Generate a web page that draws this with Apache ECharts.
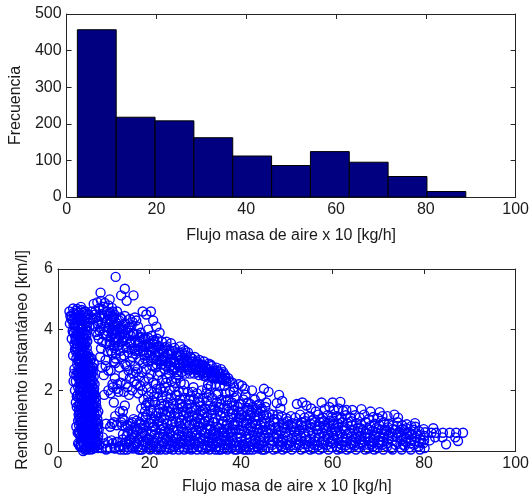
<!DOCTYPE html>
<html>
<head>
<meta charset="utf-8">
<script src="https://cdn.jsdelivr.net/npm/echarts@6/dist/echarts.min.js"></script>
<style>
  html, body { margin: 0; padding: 0; background: #fff; }
  #chart { width: 532px; height: 500px; }
</style>
</head>
<body>
<div id="chart"></div>
<script>
// Histograma: bordes de las clases y frecuencias
const bordesClases = [2.4, 11.05, 19.7, 28.35, 37.0, 45.65, 54.3, 62.95, 71.6, 80.25, 88.9];
const frecuencias = [457, 218, 208, 162, 112, 86, 124, 95, 56, 15];

// Ticks de los ejes
const ticksFlujo = [0, 20, 40, 60, 80, 100];
const ticksFrecuencia = [0, 100, 200, 300, 400, 500];
const ticksRendimiento = [0, 2, 4, 6];

// Dispersión: [flujo masa de aire x 10, rendimiento instantáneo]
const bandaVertical = [
  [5.2,0.12],[6.1,0.08],[6.8,0.15],[7.5,0.06],[8.1,0.14],[8.7,0.1],[4.6,0.22],[7.2,0.25],[6.4,0.3],
  [5.5,0.42],[6.2,0.38],[6.9,0.45],[7.6,0.4],[8.3,0.36],[8.8,0.5],[5.9,0.55],[7.3,0.6],
  [5.0,0.75],[5.8,0.7],[6.5,0.78],[7.1,0.68],[7.8,0.74],[8.4,0.82],[6.2,0.9],[7.5,0.95],
  [4.4,1.0],[5.6,1.05],[6.3,1.1],[6.9,1.02],[7.6,1.12],[8.2,1.0],[5.9,1.25],[7.2,1.3],[8.5,1.22],
  [4.1,1.45],[5.4,1.4],[6.1,1.5],[6.7,1.38],[7.4,1.48],[8.0,1.42],[5.8,1.62],[7.0,1.66],[7.9,1.7],
  [4.3,1.85],[5.2,1.82],[5.9,1.9],[6.5,1.78],[7.2,1.88],[7.8,1.95],[5.6,2.05],[6.8,2.1],[7.5,2.15],
  [3.9,2.3],[5.0,2.25],[5.7,2.32],[6.3,2.2],[6.9,2.35],[7.6,2.28],[5.4,2.48],[6.6,2.55],[7.3,2.5],
  [3.6,2.7],[4.6,2.72],[5.4,2.7],[6.0,2.8],[6.7,2.68],[7.4,2.78],[5.1,2.95],[6.3,3.0],[7.0,2.98],[7.8,2.9],
  [3.3,3.15],[4.4,3.2],[5.2,3.18],[5.8,3.3],[6.5,3.22],[4.8,3.45],[6.0,3.5],[3.9,3.4],
  [3.0,3.7],[3.9,3.65],[4.7,3.72],[5.5,3.68],[6.2,3.8],[4.3,3.95],[5.2,3.92],[6.0,4.0],[3.4,3.9],
  [2.6,4.2],[3.4,4.15],[4.1,4.25],[4.9,4.18],[5.7,4.3],[6.5,4.22],[3.0,4.45],[3.8,4.5],[4.6,4.42],[5.4,4.55],[6.2,4.48],
  [2.5,4.6],[3.3,4.7],[4.2,4.68],[5.0,4.75],
  [5.6,0.2],[6.4,0.12],[7.0,0.05],[7.8,0.22],[8.4,0.28],[5.0,0.35],[6.6,0.55],[8.0,0.58],[5.3,0.62],[6.0,0.85],
  [6.8,0.85],[7.9,0.9],[8.6,0.7],[5.4,0.88],[6.6,1.18],[7.9,1.28],[5.1,1.2],[4.8,1.55],[6.4,1.6],[7.6,1.58],
  [8.3,1.6],[6.2,1.75],[7.5,1.8],[4.7,2.0],[6.1,2.05],[7.1,2.05],[8.0,2.2],[4.5,2.4],[6.0,2.4],[7.0,2.45],
  [5.8,2.6],[7.6,2.62],[4.2,2.85],[5.7,2.9],[6.6,2.88],[4.0,3.05],[5.5,3.05],[6.9,3.1],[3.7,3.35],[5.3,3.35],
  [6.3,3.4],[4.1,3.55],[5.6,3.55],[6.4,3.62],[3.5,3.88],[4.9,3.88],[6.4,3.98],[3.7,4.05],[5.3,4.08],[6.9,4.1],
  [2.9,4.35],[4.3,4.35],[5.9,4.4],[7.0,4.35],
  [3.4,2.3],[3.9,1.6],[4.1,1.8],[4.0,0.8],[4.3,0.6],[4.4,0.25],[3.7,2.0],[3.5,2.55],
  [5.8,0.05],[6.6,0.22],[7.4,0.18],[8.2,0.45],[5.4,0.3],[6.0,0.48],[7.0,0.32],[7.8,0.52],[8.6,0.3],[5.6,0.8],
  [6.4,0.65],[7.2,0.82],[8.0,0.66],[8.8,0.9],[4.8,0.55],[9.0,0.2],
  [5.2,1.0],[6.0,1.15],[6.8,1.25],[7.6,1.35],[8.4,1.45],[5.0,1.35],[5.8,1.45],[6.6,1.55],[7.3,1.7],[8.1,1.85],
  [4.6,1.75],[5.5,1.7],[6.3,1.9],[7.0,1.95],[7.8,1.55],[8.6,1.05],
  [5.3,2.1],[6.2,2.3],[7.0,2.2],[7.8,2.45],[4.9,2.55],[5.6,2.4],[6.4,2.65],[7.2,2.65],[4.4,2.6],[5.2,2.8],
  [6.1,2.95],[6.9,2.8],[4.0,2.5],[7.9,2.05],
  [4.6,3.05],[5.4,3.25],[6.2,3.15],[4.0,3.25],[4.6,3.6],[5.0,3.55],[5.9,3.7],[3.6,3.55],[3.2,3.95],[4.0,3.85],
  [4.8,4.0],[5.6,3.95],[6.3,4.12],[3.2,4.3],[4.5,4.55],[5.3,4.35],[6.0,4.25],[2.7,4.45],[3.6,4.35],[4.0,4.62],
  [5.8,4.6],[6.7,4.5]
];

const rellenoBanda = [
  [5.5,0.0],[6.3,0.05],[7.1,0.12],[7.9,0.1],[8.5,0.18],[5.1,0.5],[5.7,0.4],[6.3,0.52],[6.9,0.6],[7.5,0.5],[8.1,0.3],[8.7,0.4],
  [5.3,0.78],[5.9,0.95],[6.5,0.98],[7.0,0.92],[7.7,0.82],[8.3,0.95],[4.9,1.1],[5.5,1.22],[6.2,1.3],[6.9,1.45],[7.4,1.2],[8.1,1.15],[8.8,1.3],
  [5.2,1.55],[5.7,1.35],[6.4,1.42],[7.1,1.55],[7.7,1.45],[8.3,1.75],[4.9,1.95],[5.4,2.0],[6.0,1.65],[6.6,1.95],[7.3,2.0],[7.9,1.85],
  [5.1,2.4],[5.6,2.2],[6.2,2.5],[6.8,2.25],[7.4,2.35],[4.7,2.2],[5.3,2.6],[5.9,2.75],[6.5,2.42],[7.1,2.75],[7.7,2.75],
  [4.5,2.95],[4.9,3.15],[5.5,2.85],[6.1,3.1],[6.7,3.05],[7.3,3.05],[4.2,3.4],[4.7,3.3],[5.1,3.65],[5.7,3.45],[6.3,3.6],[3.8,3.75],
  [4.4,3.8],[5.0,4.05],[5.5,3.8],[6.1,3.85],[3.6,4.2],[4.3,4.1],[4.8,4.3],[5.6,4.15],[6.5,4.38],[3.4,4.55],[4.0,4.4],[5.2,4.65],[6.0,4.6],
  [4.7,1.25],[4.5,1.5],[4.4,2.1],[4.2,2.6],[4.8,2.85],[4.6,0.85],[5.0,0.2],[4.9,0.95],
  [6.7,0.28],[7.6,0.28],[8.9,0.7],[8.2,0.62],[7.4,0.72],[6.7,0.72],[6.0,0.68],[5.6,0.58],
  [6.0,1.3],[6.9,1.2],[7.8,1.05],[5.3,1.65],[6.8,1.75],[7.6,1.9],[5.8,2.15],[6.5,2.12],[7.2,2.2],[6.9,2.6],[6.1,2.6],[5.6,3.15],
  [4.9,0.45],[5.2,0.9],[4.7,1.05],[5.0,1.45],[4.8,1.85],[5.1,2.15],[4.8,2.35],[5.0,2.7],[4.7,3.2],[5.3,3.45],
  [4.6,3.9],[5.0,1.75],[5.3,1.25],[4.6,1.35],[4.9,2.05],[5.2,2.5],[4.6,2.55],[5.0,3.0],[5.3,0.7],[4.8,0.15],
  [5.5,0.55],[5.6,1.55],[5.4,1.95],[5.6,2.7],[5.4,3.6],[5.1,4.2],[4.4,3.0],[4.5,1.2],[4.6,0.6],[5.3,0.45]
];

const nucleoSuperior = [
  [7.8,4.85],[8.6,4.9],[9.4,4.95],[10.2,4.88],[11.0,4.8],[11.8,4.72],[7.4,4.6],[8.2,4.62],[9.0,4.7],[9.8,4.66],
  [10.6,4.6],[11.4,4.55],[12.3,4.5],[7.6,4.35],[8.4,4.4],[9.2,4.45],[10.0,4.38],[10.8,4.32],[11.6,4.3],[12.6,4.25],
  [7.9,4.12],[8.7,4.18],[9.5,4.2],[10.3,4.1],[11.1,4.05],[11.9,4.0],[12.8,3.98],[8.3,3.92],[9.1,3.95],[9.9,3.85],
  [10.7,3.8],[11.5,3.75],[12.4,3.72],[13.2,3.7],[8.9,3.7],[9.7,3.6],[10.5,3.55],[11.3,3.5],[12.1,3.48],[13.0,3.45],
  [9.4,3.38],[10.9,3.28],[11.8,3.22],[12.7,3.2],[13.6,3.3],
  [9.2,3.1],[10.4,3.0],[12.2,2.95],[9.6,2.75],[11.0,2.65],
  [8.1,4.5],[9.6,4.52],[10.9,4.48],[8.8,4.28],[10.4,4.25],[9.3,4.05],[10.8,3.95],[8.6,3.82],[12.0,3.88],[9.9,4.75],[11.2,4.18],
  [9.5,0.1],[10.2,0.25],[10.8,0.08],[9.8,0.45],[10.5,0.9],[10.0,2.5],[10.1,1.85],[11.0,2.0],[12.0,2.1],[13.0,2.2],
  [10.4,2.8],[11.5,2.65],[12.5,2.9]
];

const puntosAltos = [
  [9.3,5.22],[12.6,5.74],[14.6,5.35],[13.8,5.13],[16.5,5.13],[11.3,5.0],[15.0,4.95]
];

const nube12a20 = [
  [11.4,0.1],[11.7,0.35],[11.8,0.9],[11.5,1.9],[11.9,2.2],[11.3,3.6],[11.7,3.95],[11.4,4.35],[11.9,4.6],[11.6,3.3],
  [12.4,0.08],[12.7,0.3],[12.8,0.85],[12.5,1.15],[12.2,1.6],[12.9,2.05],[12.4,2.4],[12.6,3.05],[12.3,3.4],[12.8,3.75],[12.5,4.1],[12.2,4.4],[12.9,4.6],
  [13.4,0.15],[13.8,0.95],[13.5,1.3],[13.2,1.95],[13.7,2.25],[13.4,2.75],[13.8,3.1],[13.3,3.5],[13.6,3.8],[13.9,4.05],[13.4,4.3],
  [14.4,0.05],[14.7,0.28],[14.8,0.78],[14.5,1.0],[14.2,1.32],[14.6,1.5],[14.4,1.95],[14.8,2.2],[14.3,2.5],[14.7,2.85],[14.4,3.15],[14.8,3.45],[14.5,3.75],[14.2,4.0],[14.7,4.2],
  [15.4,0.12],[15.7,0.38],[15.3,0.62],[15.8,0.9],[15.5,1.85],[15.2,2.1],[15.7,2.4],[15.4,2.65],[15.8,2.95],[15.3,3.25],[15.6,3.55],[15.9,3.8],[15.4,4.05],[15.7,4.35],
  [16.4,0.08],[16.7,0.3],[16.3,0.55],[16.8,0.8],[16.5,1.05],[16.2,2.0],[16.7,2.3],[16.4,2.55],[16.8,2.8],[16.3,3.1],[16.6,3.4],[16.9,3.65],[16.4,3.9],[16.8,4.4],
  [17.4,0.15],[17.7,0.4],[17.3,0.68],[17.8,0.95],[17.5,1.9],[17.2,2.2],[17.7,2.45],[17.4,2.7],[17.8,3.0],[17.3,3.3],[17.6,3.55],[17.9,3.75],[17.5,4.1],
  [18.4,0.05],[18.7,0.32],[18.3,0.58],[18.8,0.85],[18.5,1.12],[18.2,1.4],[18.7,1.7],[18.4,2.0],[18.8,2.3],[18.3,2.6],[18.6,2.9],[18.9,3.15],[18.4,3.45],[18.7,3.7],[18.5,4.6],
  [19.4,0.12],[19.7,0.4],[19.3,0.65],[19.8,0.92],[19.5,1.2],[19.2,1.5],[19.7,1.8],[19.4,2.1],[19.8,2.4],[19.3,2.7],[19.6,2.95],[19.9,3.25],[19.4,3.5],[19.7,4.0],[19.3,4.5],
  [12.0,3.85],[13.0,4.2],[14.0,3.6],[15.0,3.4],[16.0,3.6],[17.0,3.2],[18.0,3.4],[19.0,3.05],[12.0,0.25],[14.0,0.85],
  [15.0,0.22],[16.0,0.7],[17.0,0.28],[18.0,0.75],[19.0,0.5],[17.0,2.6],[18.0,2.15],[15.0,2.8],[16.1,4.15],[19.1,3.7]
];

const nube20a29 = [
  [20.4,0.08],[20.7,0.3],[20.3,0.55],[20.8,0.8],[20.5,1.05],[20.2,1.35],[20.7,1.65],[20.4,1.95],[20.8,2.25],[20.3,2.55],[20.6,2.8],[20.9,3.05],[20.4,3.3],[20.7,3.55],[20.5,3.8],[20.3,4.6],[20.8,4.3],
  [21.4,0.15],[21.7,0.42],[21.3,0.7],[21.8,0.95],[21.5,1.25],[21.2,1.6],[21.7,1.9],[21.4,2.2],[21.8,2.5],[21.3,2.75],[21.6,3.0],[21.9,3.25],[21.4,3.5],[21.7,3.7],[21.5,4.1],
  [22.4,0.05],[22.7,0.3],[22.3,0.58],[22.8,0.85],[22.5,1.1],[22.2,1.4],[22.7,1.75],[22.4,2.05],[22.8,2.35],[22.3,2.6],[22.6,2.85],[22.9,3.1],[22.4,3.35],[22.7,3.6],[22.2,3.9],
  [23.4,0.12],[23.7,0.4],[23.3,0.65],[23.8,0.9],[23.5,1.18],[23.2,1.5],[23.7,1.8],[23.4,2.1],[23.8,2.4],[23.3,2.7],[23.6,2.95],[23.9,3.2],[23.4,3.42],[23.7,3.6],
  [24.4,0.08],[24.7,0.35],[24.3,0.6],[24.8,0.88],[24.5,1.15],[24.2,1.45],[24.7,1.75],[24.4,2.0],[24.8,2.3],[24.3,2.55],[24.6,2.8],[24.9,3.05],[24.4,3.3],[24.7,3.55],
  [25.4,0.15],[25.7,0.4],[25.3,0.68],[25.8,0.95],[25.5,1.25],[25.2,1.55],[25.7,1.85],[25.4,2.1],[25.8,2.4],[25.3,2.65],[25.6,2.9],[25.9,3.15],[25.4,3.4],
  [26.4,0.05],[26.7,0.3],[26.3,0.55],[26.8,0.82],[26.5,1.1],[26.2,1.4],[26.7,1.7],[26.4,1.95],[26.8,2.25],[26.3,2.5],[26.6,2.75],[26.9,3.0],[26.4,3.25],[26.7,3.45],
  [27.4,0.12],[27.7,0.38],[27.3,0.62],[27.8,0.9],[27.5,1.18],[27.2,1.45],[27.7,1.75],[27.4,1.98],[27.8,2.55],[27.3,2.75],[27.6,2.95],[27.9,3.15],[27.4,3.35],
  [28.4,0.08],[28.7,0.32],[28.3,0.58],[28.8,0.85],[28.5,1.12],[28.2,1.4],[28.7,1.7],[28.4,1.95],[28.8,2.55],[28.3,2.7],[28.6,2.9],[28.9,3.1],[28.4,3.25],
  [20.0,3.45],[21.0,3.35],[22.0,3.2],[23.0,3.0],[24.0,2.9],[25.0,2.7],[26.0,2.6],[27.0,2.6],[28.0,2.75],
  [20.1,0.2],[21.1,0.55],[22.1,0.25],[23.1,0.75],[24.1,0.22],[25.1,0.5],[26.1,0.2],[27.1,0.5],[28.1,0.22],
  [21.0,1.05],[23.0,1.3],[25.0,0.95],[27.0,1.0]
];

const nube29a37 = [
  [29.4,0.1],[29.7,0.35],[29.3,0.6],[29.8,0.88],[29.5,1.15],[29.2,1.42],[29.7,1.7],[29.4,1.95],[29.8,2.55],[29.3,2.75],[29.6,2.95],[29.9,3.1],
  [30.4,0.05],[30.7,0.3],[30.3,0.55],[30.8,0.82],[30.5,1.1],[30.2,1.35],[30.7,1.62],[30.4,1.9],[30.8,2.5],[30.3,2.68],[30.6,2.88],[30.9,3.0],
  [31.4,0.12],[31.7,0.4],[31.3,0.65],[31.8,0.92],[31.5,1.2],[31.2,1.48],[31.7,1.75],[31.4,2.0],[31.8,2.48],[31.3,2.62],[31.6,2.82],[31.9,2.95],
  [32.4,0.08],[32.7,0.32],[32.3,0.58],[32.8,0.85],[32.5,1.12],[32.2,1.4],[32.7,1.65],[32.4,1.9],[32.8,2.2],[32.3,2.45],[32.6,2.68],[32.9,2.88],
  [33.4,0.15],[33.7,0.42],[33.3,0.7],[33.8,0.95],[33.5,1.22],[33.2,1.5],[33.7,1.75],[33.4,2.15],[33.8,2.4],[33.3,2.6],[33.6,2.8],
  [34.4,0.05],[34.7,0.3],[34.3,0.55],[34.8,0.8],[34.5,1.08],[34.2,1.35],[34.7,1.6],[34.4,2.2],[34.8,2.4],[34.3,2.58],[34.6,2.75],
  [35.4,0.12],[35.7,0.38],[35.3,0.62],[35.8,0.9],[35.5,1.18],[35.2,1.45],[35.7,1.7],[35.4,2.15],[35.8,2.35],[35.3,2.55],[35.6,2.7],
  [36.4,0.08],[36.7,0.35],[36.3,0.6],[36.8,0.85],[36.5,1.12],[36.2,1.4],[36.7,1.65],[36.4,2.15],[36.8,2.3],[36.5,2.5],
  [37.1,0.2],[37.2,0.55],[37.0,0.9],[37.3,1.3],[37.1,1.7],[37.2,2.4],
  [29.0,0.22],[30.0,0.5],[31.0,0.25],[32.0,0.6],[33.0,0.3],[34.0,0.65],[35.0,0.28],[36.0,0.5],
  [29.0,1.3],[31.0,1.05],[33.0,1.0],[35.0,1.3],[30.0,2.7],[32.0,2.6],[34.0,2.5],[36.0,2.4]
];

const nube37a46 = [
  [37.8,0.1],[38.1,0.35],[37.7,0.6],[38.2,0.85],[37.9,1.1],[38.3,1.35],[38.0,1.6],[38.4,1.95],[38.1,2.25],
  [38.8,0.18],[39.1,0.45],[38.7,0.7],[39.2,0.95],[38.9,1.2],[39.3,1.45],[39.0,1.8],
  [39.8,0.08],[40.1,0.32],[39.7,0.58],[40.2,0.82],[39.9,1.08],[40.3,1.3],[40.0,1.55],[40.2,2.15],
  [40.8,0.15],[41.1,0.4],[40.7,0.65],[41.2,0.9],[40.9,1.15],[41.3,1.42],[41.0,1.85],
  [41.8,0.05],[42.1,0.3],[41.7,0.55],[42.2,0.8],[41.9,1.05],[42.3,1.28],[42.0,1.55],[42.4,2.0],
  [42.8,0.12],[43.1,0.38],[42.7,0.62],[43.2,0.88],[42.9,1.12],[43.3,1.38],[43.0,1.7],
  [43.8,0.08],[44.1,0.35],[43.7,0.6],[44.2,0.85],[43.9,1.1],[44.3,1.32],[44.0,1.55],[44.4,1.8],
  [44.8,0.18],[45.1,0.42],[44.7,0.68],[45.2,0.92],[44.9,1.18],[45.3,1.45],[45.0,2.05],
  [38.5,0.25],[39.5,0.7],[40.5,0.2],[41.5,0.75],[42.5,0.22],[43.5,0.72],[44.5,0.25],[45.5,0.68],
  [39.5,1.1],[41.5,1.2],[43.5,1.15],[45.5,1.2]
];

const nube46a55 = [
  [46.0,0.1],[46.3,0.35],[45.9,0.6],[46.4,0.85],[46.1,1.1],[46.0,1.95],
  [46.8,0.2],[47.1,0.45],[46.7,0.7],[47.2,0.95],[46.9,1.2],[47.8,1.58],
  [47.8,0.08],[48.1,0.32],[47.7,0.55],[48.2,0.8],[47.9,1.05],[48.3,1.85],[48.6,1.4],
  [48.8,0.15],[49.1,0.4],[48.7,0.65],[49.2,0.9],[48.9,1.15],[49.0,1.65],
  [49.8,0.1],[50.1,0.35],[49.7,0.6],[50.2,0.85],[49.9,1.08],
  [50.8,0.18],[51.1,0.42],[50.7,0.68],[51.2,0.92],[50.9,1.15],
  [51.8,0.12],[52.1,0.38],[51.7,0.62],[52.2,0.88],[51.9,1.1],[52.2,1.55],
  [52.8,0.2],[53.1,0.45],[52.7,0.7],[53.2,0.95],[52.9,1.2],[53.4,1.6],
  [53.8,0.1],[54.1,0.35],[53.7,0.6],[54.2,0.85],[53.9,1.1],[54.3,1.5],
  [46.5,0.25],[47.5,0.75],[48.5,0.2],[49.5,0.75],[50.5,0.25],[51.5,0.78],[52.5,0.25],[53.5,0.78]
];

const nube55a63 = [
  [54.8,0.15],[55.1,0.4],[54.7,0.65],[55.2,0.9],[54.9,1.15],[55.3,1.4],
  [55.8,0.08],[56.1,0.32],[55.7,0.58],[56.2,0.82],[55.9,1.05],[56.3,1.3],
  [56.8,0.18],[57.1,0.45],[56.7,0.7],[57.2,0.95],[56.9,1.2],[57.6,1.6],
  [57.8,0.1],[58.1,0.35],[57.7,0.6],[58.2,0.85],[57.9,1.1],[58.3,1.38],
  [58.8,0.2],[59.1,0.42],[58.7,0.68],[59.2,0.92],[58.9,1.18],[59.3,1.45],
  [59.8,0.12],[60.1,0.38],[59.7,0.62],[60.2,0.88],[59.9,1.12],[60.3,1.35],[60.0,1.6],
  [60.8,0.15],[61.1,0.4],[60.7,0.65],[61.2,0.9],[60.9,1.15],[61.3,1.4],[61.7,1.62],
  [61.8,0.08],[62.1,0.32],[61.7,0.58],[62.2,0.82],[61.9,1.08],[62.3,1.32],
  [62.8,0.18],[63.1,0.42],[62.7,0.68],[63.2,0.92],[62.9,1.18],
  [55.5,0.25],[56.5,0.7],[57.5,0.28],[58.5,0.75],[59.5,0.3],[60.5,0.72],[61.5,0.25],[62.5,0.75],
  [55.5,1.0],[57.5,1.05],[59.5,1.0],[61.5,1.05],[63.0,1.35]
];

const nube63a72 = [
  [63.8,0.1],[64.1,0.35],[63.7,0.6],[64.2,0.85],[63.9,1.1],[64.3,1.35],
  [64.8,0.18],[65.1,0.42],[64.7,0.68],[65.2,0.92],[64.9,1.18],
  [65.8,0.12],[66.1,0.38],[65.7,0.62],[66.2,0.88],[65.9,1.1],[66.3,1.38],
  [66.8,0.2],[67.1,0.45],[66.7,0.7],[67.2,0.95],[66.9,1.2],
  [67.8,0.08],[68.1,0.32],[67.7,0.58],[68.2,0.82],[67.9,1.05],[68.3,1.3],
  [68.8,0.15],[69.1,0.4],[68.7,0.65],[69.2,0.9],[68.9,1.12],
  [69.8,0.1],[70.1,0.35],[69.7,0.6],[70.2,0.85],[69.9,1.08],[70.3,1.28],
  [70.8,0.2],[71.1,0.45],[70.7,0.7],[71.2,0.95],[70.9,1.15],
  [64.5,0.25],[65.5,0.75],[66.5,0.28],[67.5,0.72],[68.5,0.22],[69.5,0.75],[70.5,0.28],[71.5,0.7]
];

const nube72a80 = [
  [71.9,0.15],[72.2,0.4],[71.8,0.65],[72.3,0.9],[72.0,1.15],
  [72.8,0.1],[73.1,0.35],[72.7,0.6],[73.2,0.85],[73.5,1.2],
  [73.8,0.2],[74.1,0.45],[73.7,0.7],[74.2,0.95],[74.3,1.1],
  [74.8,0.12],[75.1,0.38],[74.7,0.62],[75.2,0.85],[75.4,0.2],
  [75.8,0.18],[76.1,0.42],[75.7,0.68],[76.2,0.88],
  [76.8,0.12],[77.1,0.38],[76.7,0.62],[77.2,0.82],
  [77.8,0.2],[78.1,0.45],[77.7,0.7],[78.0,0.92],
  [78.8,0.15],[79.1,0.4],[78.9,0.65],
  [79.8,0.25],[80.1,0.5],[79.9,0.72]
];

const nube80a89 = [
  [81.2,0.35],[81.6,0.6],[82.4,0.45],[82.6,0.6],[84.1,0.6],[84.0,0.45],[84.8,0.22],[85.6,0.6],
  [87.0,0.6],[87.4,0.33],[88.5,0.6],[86.8,0.45],[82.0,0.75]
];

// Franja diagonal superior de la nube principal
const franjaDiagonal = [
  [12.0,4.15],[12.6,3.6],[13.1,3.95],[13.6,4.4],[14.1,3.85],[14.6,4.45],[15.1,3.7],[15.6,4.1],[16.1,3.35],[16.6,3.85],
  [17.1,4.3],[17.6,3.35],[18.1,3.9],[18.6,3.3],[19.1,3.45],[19.6,3.75],[20.1,3.15],[20.6,3.4],[21.1,3.6],[21.6,2.85],
  [22.1,3.45],[22.6,3.0],[23.1,3.3],[23.6,2.8],[24.1,3.2],[24.6,2.95],[25.1,3.3],[25.6,2.75],[26.1,3.1],[26.6,2.9],
  [27.1,3.25],[27.6,2.8],[28.1,3.0],[28.6,2.65],[29.1,2.95],[29.6,2.7],[30.1,2.85],[30.6,2.6],[31.1,2.75],[31.6,2.55],
  [32.1,2.8],[32.6,2.5],[33.1,2.7],[33.6,2.45],[34.1,2.65],[34.6,2.5],[35.1,2.6],[35.6,2.45],[36.1,2.6],[36.6,2.4],
  [37.5,2.3],[38.5,2.1],[39.5,2.2],[40.8,2.05],
  [19.0,1.3],[20.0,1.6],[21.0,1.8],[22.0,1.25],[23.0,1.95],[24.0,1.6],[25.0,1.4],[26.0,1.85],[27.0,1.55],[28.0,1.25],
  [29.0,1.8],[30.0,1.45],[31.0,1.6],[32.0,1.25],[33.0,1.85],[34.0,1.45],[35.0,1.9],[36.0,1.25],[37.0,1.5],[38.5,1.5],
  [39.5,1.3],[40.5,1.7],[41.5,1.6],[42.5,1.45],[43.5,1.5],[44.5,1.4],[45.5,1.6],
  [11.8,4.45],[12.4,4.0],[12.9,3.65],[13.4,4.05],[13.9,4.35],[14.3,3.65],[14.9,4.0],[15.3,3.9],[15.9,3.55],[16.3,4.25],
  [16.8,3.3],[17.3,3.85],[17.8,3.6],[18.3,3.75],[18.8,3.45],[19.3,3.25],[19.8,3.55],[20.3,3.0],[20.8,3.65],[21.3,3.15],
  [21.8,3.45],[22.3,2.95],[22.8,3.35],[23.3,3.1],[23.8,3.45],[24.3,2.75],[24.8,3.2],[25.3,2.95],[25.8,3.25],[26.3,2.85],
  [26.8,3.15],[27.3,2.9],[27.8,3.3],[28.3,2.95],[28.8,2.75],[29.3,3.05],[29.8,2.85],[30.3,2.95],[30.8,2.7],[31.3,2.85],
  [31.8,2.65],[32.3,2.75],[32.8,2.55],[33.3,2.85],[33.8,2.6],[34.3,2.45],[34.8,2.65],[35.3,2.4],[35.8,2.55],[36.3,2.35],
  [19.6,1.6],[20.6,1.25],[21.6,2.05],[22.6,1.55],[23.6,2.25],[24.6,1.25],[25.6,2.25],[26.6,1.55],[27.6,2.2],[28.6,1.55],
  [29.6,2.1],[30.6,1.75],[31.6,1.35],[32.6,2.05],[33.6,1.35],[34.6,1.85],[35.6,1.55],[36.6,1.9],[37.6,1.95],[38.6,1.75],
  [39.6,1.55],[41.6,1.35],[43.6,1.3]
];

// Franja inferior densa (rendimientos bajos)
const franjaInferior = [
  [14.0,0.18],[14.2,0.55],[14.1,1.08],[15.1,0.05],[15.0,0.5],[15.2,0.85],[16.0,0.35],[16.2,0.95],[16.1,0.12],
  [17.1,0.22],[17.0,0.62],[17.2,1.0],[18.0,0.05],[18.2,0.48],[18.1,0.9],[19.1,0.3],[19.0,0.78],[19.2,1.1],
  [20.0,0.4],[20.2,0.92],[20.1,0.05],[21.1,0.28],[21.0,0.8],[21.2,1.15],[22.0,0.1],[22.2,0.48],[22.1,0.98],
  [23.1,0.25],[23.0,0.55],[23.2,1.05],[24.0,0.45],[24.2,0.72],[24.1,1.3],[25.1,0.05],[25.0,0.3],[25.2,0.78],
  [26.0,0.42],[26.2,0.68],[26.1,1.25],[27.1,0.25],[27.0,0.75],[27.2,1.3],[28.0,0.45],[28.2,1.0],[28.1,0.65],
  [29.1,0.05],[29.0,0.48],[29.2,1.0],[30.0,0.25],[30.2,0.7],[30.1,0.95],[31.1,0.45],[31.0,0.8],[31.2,1.3],
  [32.0,0.2],[32.2,0.42],[32.1,0.98],[33.1,0.05],[33.0,0.55],[33.2,0.82],[34.0,0.2],[34.2,0.45],[34.1,0.95],
  [35.1,0.05],[35.0,0.5],[35.2,0.75],[36.0,0.2],[36.2,0.72],[36.1,0.98],[37.0,0.05],[37.2,0.38],[37.1,0.72],
  [38.0,0.48],[38.2,0.7],[38.1,1.22],[39.1,0.05],[39.0,0.3],[39.2,0.85],[40.0,0.45],[40.2,0.68],[40.1,1.18],
  [41.1,0.05],[41.0,0.25],[41.2,1.0],[42.0,0.42],[42.2,0.68],[42.1,1.15],[43.1,0.25],[43.0,0.5],[43.2,1.0],
  [44.0,0.2],[44.2,0.48],[44.1,0.72],[45.1,0.05],[45.0,0.3],[45.2,0.8],[46.0,0.45],[46.2,0.72],[46.1,1.25],
  [47.1,0.05],[47.0,0.32],[47.2,1.05],[48.0,0.42],[48.2,0.68],[48.1,1.2],[49.1,0.05],[49.0,0.28],[49.2,0.78],
  [50.0,0.2],[50.2,0.48],[50.1,0.98],[51.1,0.05],[51.0,0.3],[51.2,0.8],[52.0,0.2],[52.2,0.5],[52.1,0.72],
  [53.1,0.05],[53.0,0.32],[53.2,0.85],[54.0,0.22],[54.2,0.48],[54.1,0.98],[55.1,0.05],[55.0,0.3],[55.2,0.78],
  [56.0,0.2],[56.2,0.45],[56.1,0.95],[57.1,0.05],[57.0,0.58],[57.2,0.82],[58.0,0.22],[58.2,0.48],[58.1,0.98],
  [59.1,0.05],[59.0,0.55],[59.2,0.8],[60.0,0.25],[60.2,0.5],[60.1,1.0],[61.1,0.05],[61.0,0.55],[61.2,0.78],
  [62.0,0.2],[62.2,0.45],[62.1,0.95],[63.1,0.05],[63.0,0.3],[63.2,0.55],[64.0,0.22],[64.2,0.48],[64.1,0.98],
  [65.1,0.05],[65.0,0.3],[65.2,0.55],[66.0,0.22],[66.2,0.5],[66.1,0.75],[67.1,0.05],[67.0,0.32],[67.2,0.58],
  [68.0,0.2],[68.2,0.45],[68.1,0.7],[69.1,0.05],[69.0,0.28],[69.2,0.52],[70.0,0.22],[70.2,0.48],[70.1,0.72],
  [71.1,0.05],[71.0,0.32],[71.2,0.58],[72.0,0.25],[72.2,0.52],[72.1,0.78],[73.1,0.05],[73.0,0.48],[73.2,0.72],
  [74.0,0.3],[74.2,0.58],[74.1,0.82],[75.1,0.05],[75.0,0.5],[75.2,0.72],[76.0,0.3],[76.2,0.55],[76.1,0.75],
  [77.1,0.05],[77.0,0.25],[77.2,0.55],[78.0,0.32],[78.2,0.58],[78.1,0.8],[79.1,0.05],[79.0,0.28],[79.2,0.52],
  [80.0,0.35],[80.2,0.62],[80.1,0.1],
  [10.5,0.05],[11.0,0.3],[11.4,0.8],[12.2,0.95],[12.6,0.1],[13.1,0.3],[13.6,0.05],[14.1,0.38],[15.5,0.3],[16.6,0.15],
  [17.6,0.05],[18.6,0.2],[19.6,0.25],[20.6,0.18],[21.6,0.05],[22.6,0.15],[23.6,0.05],[24.6,0.2],[25.6,0.25],[26.6,0.12],
  [27.6,0.05],[28.6,0.18],[29.6,0.25],[30.6,0.15],[31.6,0.05],[32.6,0.18],[33.6,0.25],[34.6,0.15],[35.6,0.05],[36.6,0.2],
  [37.6,0.25],[38.6,0.05],[39.6,0.18],[40.6,0.05],[41.6,0.15],[42.6,0.05],[43.6,0.15],[44.6,0.05],
  [16.5,0.45],[18.5,0.62],[20.5,0.65],[22.5,0.72],[24.5,0.55],[26.5,0.92],[28.5,0.5],[30.5,0.88],[32.5,0.75],[34.5,0.6],
  [36.5,0.5],[38.5,0.9],[40.5,0.95],[42.5,0.92],[44.5,0.95]
];

const puntosDispersion = [].concat(
  bandaVertical, rellenoBanda, nucleoSuperior, puntosAltos, nube12a20, nube20a29, nube29a37,
  nube37a46, nube46a55, nube55a63, nube63a72, nube72a80, nube80a89,
  franjaDiagonal, franjaInferior
);

const datosHistograma = frecuencias.map(function (f, i) {
  return [bordesClases[i], bordesClases[i + 1], f];
});

const fuente = 'Liberation Sans, Arial, Helvetica, sans-serif';
const colorTexto = '#1a1a1a';
const colorEje = '#262626';
const tamTexto = 16;

function ejeX(grid, principal, nombre, gap) {
  return {
    type: 'value', gridIndex: grid, min: ticksFlujo[0], max: ticksFlujo[ticksFlujo.length - 1],
    interval: ticksFlujo[1] - ticksFlujo[0],
    position: principal ? 'bottom' : 'top',
    name: principal ? nombre : '',
    nameLocation: 'middle', nameGap: gap,
    nameTextStyle: { fontFamily: fuente, fontSize: tamTexto, color: colorTexto },
    axisLine: { show: true, onZero: false, lineStyle: { color: colorEje, width: 1 } },
    axisTick: { show: true, inside: true, length: 5, lineStyle: { color: colorEje } },
    axisLabel: { show: principal, margin: 5, fontFamily: fuente, fontSize: tamTexto, color: colorTexto },
    splitLine: { show: false }
  };
}

function ejeY(grid, principal, ticks, nombre, gap) {
  return {
    type: 'value', gridIndex: grid, min: ticks[0], max: ticks[ticks.length - 1],
    interval: ticks[1] - ticks[0],
    position: principal ? 'left' : 'right',
    name: principal ? nombre : '',
    nameLocation: 'middle', nameGap: gap,
    nameTextStyle: { fontFamily: fuente, fontSize: tamTexto, color: colorTexto },
    axisLine: { show: true, onZero: false, lineStyle: { color: colorEje, width: 1 } },
    axisTick: { show: true, inside: true, length: 5, lineStyle: { color: colorEje } },
    axisLabel: { show: principal, margin: 5, fontFamily: fuente, fontSize: tamTexto, color: colorTexto },
    splitLine: { show: false }
  };
}

const grafico = echarts.init(document.getElementById('chart'), null, { renderer: 'canvas' });

grafico.setOption({
  animation: false,
  backgroundColor: '#ffffff',
  grid: [
    { left: 58, right: 14, top: 14, height: 183 },
    { left: 58, right: 14, top: 269, height: 182 }
  ],
  xAxis: [
    ejeX(0, true, 'Flujo masa de aire x 10 [kg/h]', 31),
    ejeX(0, false, '', 0),
    ejeX(1, true, 'Flujo masa de aire x 10 [kg/h]', 28),
    ejeX(1, false, '', 0)
  ],
  yAxis: [
    ejeY(0, true, ticksFrecuencia, 'Frecuencia', 29),
    ejeY(0, false, ticksFrecuencia, '', 0),
    ejeY(1, true, ticksRendimiento, 'Rendimiento instantáneo [km/l]', 27),
    ejeY(1, false, ticksRendimiento, '', 0)
  ],
  series: [
    {
      type: 'custom',
      xAxisIndex: 0, yAxisIndex: 0,
      data: datosHistograma,
      encode: { x: [0, 1], y: 2 },
      renderItem: function (params, api) {
        const sup = api.coord([api.value(0), api.value(2)]);
        const inf = api.coord([api.value(1), 0]);
        return {
          type: 'rect',
          shape: { x: sup[0], y: sup[1], width: inf[0] - sup[0], height: inf[1] - sup[1] },
          style: { fill: '#000080', stroke: '#000000', lineWidth: 1 }
        };
      }
    },
    {
      type: 'scatter',
      xAxisIndex: 2, yAxisIndex: 2,
      data: puntosDispersion,
      symbol: 'circle',
      symbolSize: 9,
      itemStyle: { color: 'rgba(0,0,0,0)', borderColor: '#0000ff', borderWidth: 1.4, opacity: 1 },
      emphasis: { disabled: true },
      large: false,
      progressive: 0
    }
  ]
});
</script>
</body>
</html>
